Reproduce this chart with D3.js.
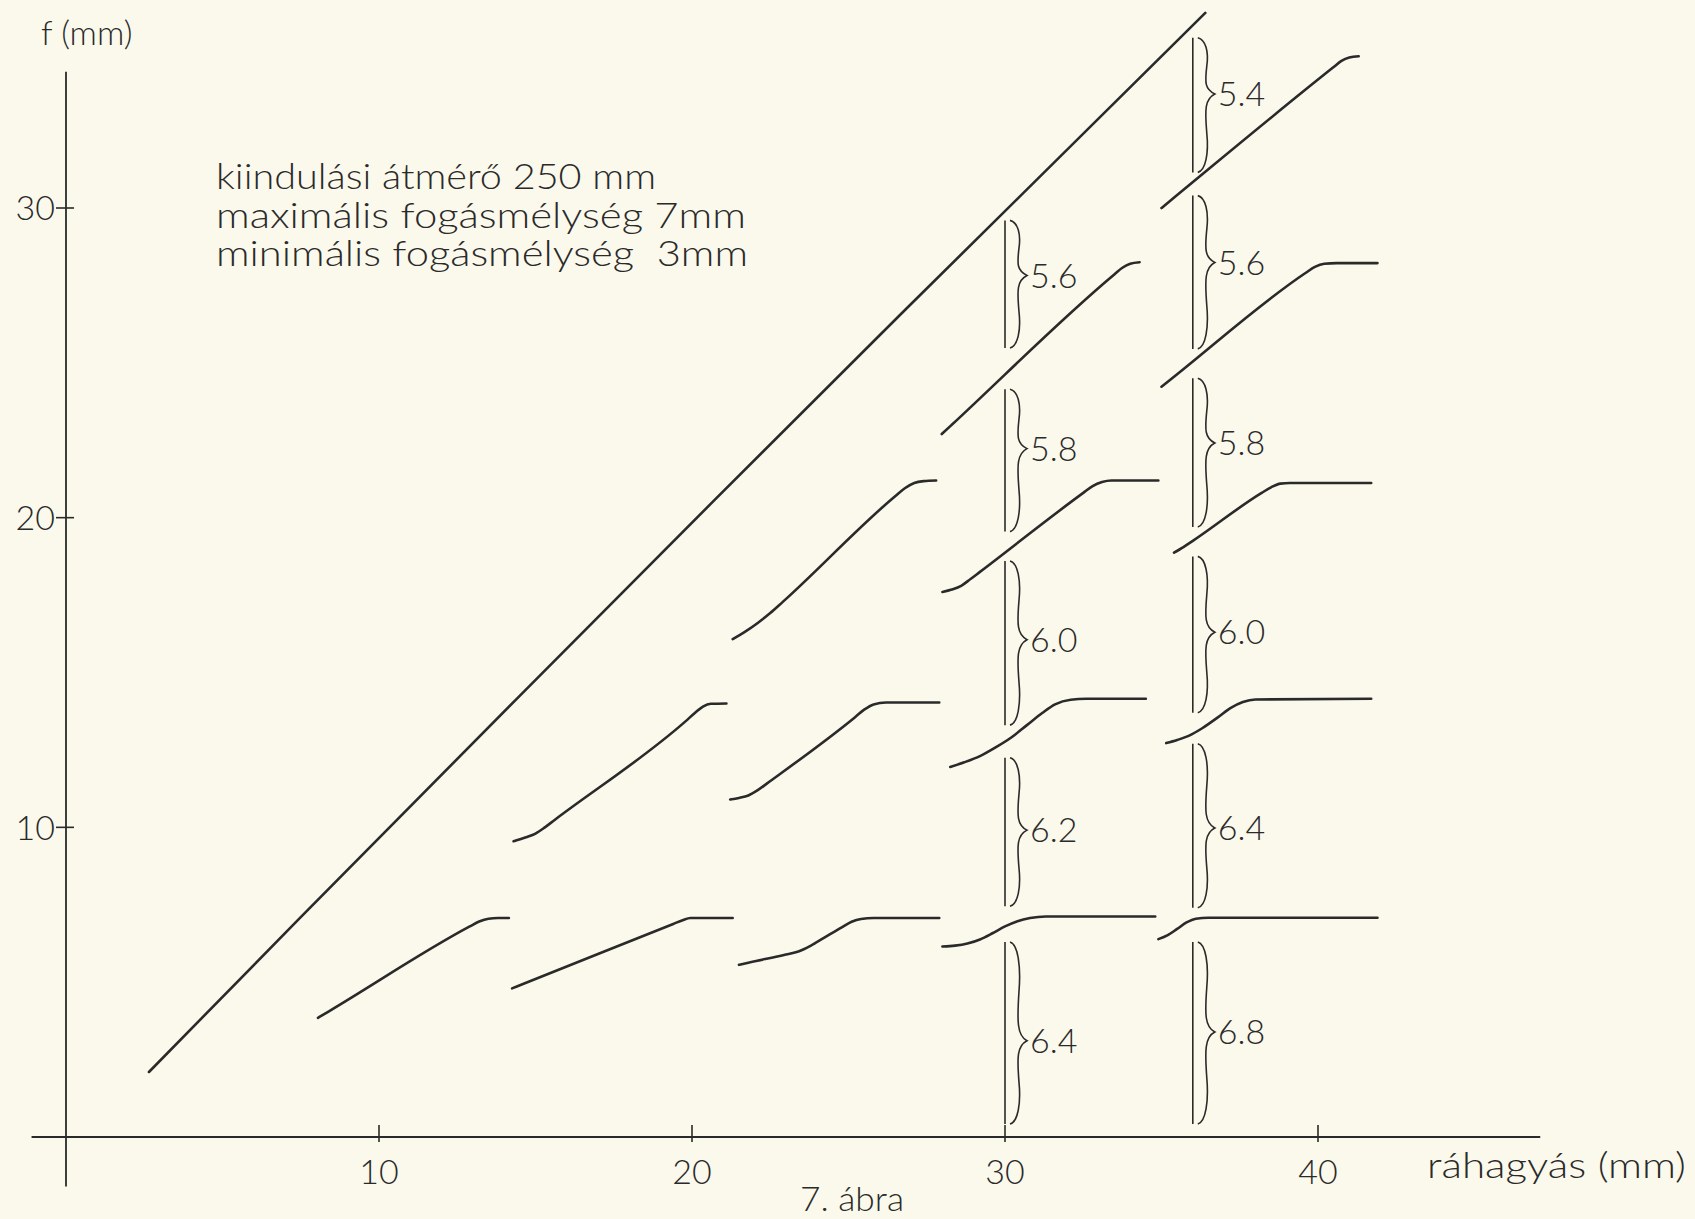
<!DOCTYPE html>
<html>
<head>
<meta charset="utf-8">
<script src="https://cdn.jsdelivr.net/npm/d3@7"></script>
<style>
  html, body { margin: 0; padding: 0; background: #fbf9ec; }
  svg { display: block; }
  text { font-family: Lato, "DejaVu Sans", sans-serif; font-weight: 300; fill: #2a2a2a; }
</style>
</head>
<body>
<div id="chart"></div>
<script>
// f (mm) a ráhagyás (mm) függvényében, fogásonként
var mainCurve = [[2.65, 2.1], [7.5, 7.1], [14.4, 14.15], [20.7, 20.55], [26.7, 26.6], [36.4, 36.3]];

var row7 = [
    [[8.05, 3.85], [8.4, 4.06], [12.9, 6.8], [13.2, 6.96], [13.5, 7.05], [13.8, 7.07], [14.15, 7.07]],
    [[14.25, 4.8], [14.6, 4.94], [19.4, 6.88], [19.7, 7.0], [19.95, 7.07], [20.3, 7.07], [21.3, 7.07]],
    [[21.5, 5.56], [21.8, 5.63], [23.0, 5.89], [23.4, 5.99], [23.8, 6.18], [24.2, 6.42], [24.8, 6.78], [25.1, 6.95], [25.4, 7.04], [25.8, 7.07], [27.9, 7.07]],
    [[28.0, 6.15], [28.4, 6.18], [28.8, 6.25], [29.2, 6.38], [29.6, 6.58], [30.0, 6.8], [30.4, 6.97], [30.8, 7.07], [31.3, 7.12], [34.8, 7.12]],
    [[34.9, 6.39], [35.2, 6.52], [35.5, 6.72], [35.8, 6.93], [36.1, 7.05], [36.5, 7.08], [41.9, 7.08]]
];

var row14 = [
    [[14.3, 9.55], [14.7, 9.68], [15.0, 9.8], [15.3, 10.0], [15.6, 10.23], [19.8, 13.43], [20.1, 13.7], [20.35, 13.9], [20.6, 13.99], [21.1, 14.0]],
    [[21.22, 10.9], [21.5, 10.95], [21.8, 11.03], [22.1, 11.2], [22.4, 11.42], [25.2, 13.55], [25.5, 13.8], [25.8, 13.97], [26.2, 14.03], [27.9, 14.03]],
    [[28.25, 11.95], [28.7, 12.1], [29.2, 12.3], [29.7, 12.58], [30.2, 12.9], [30.7, 13.3], [31.2, 13.7], [31.6, 13.97], [32.1, 14.12], [32.6, 14.15], [34.5, 14.15]],
    [[35.15, 12.72], [35.5, 12.82], [35.9, 12.97], [36.3, 13.2], [36.8, 13.55], [37.2, 13.85], [37.6, 14.05], [38.0, 14.13], [41.7, 14.15]]
];

var row21 = [
    [[21.3, 16.08], [21.7, 16.32], [22.1, 16.6], [22.5, 16.92], [22.9, 17.28], [26.5, 20.7], [26.8, 20.95], [27.1, 21.12], [27.4, 21.18], [27.8, 21.2]],
    [[28.0, 17.6], [28.3, 17.68], [28.6, 17.8], [28.9, 18.02], [29.2, 18.25], [32.5, 20.8], [32.8, 21.02], [33.1, 21.15], [33.4, 21.2], [34.9, 21.2]],
    [[35.4, 18.87], [35.7, 19.05], [36.0, 19.25], [38.2, 20.8], [38.5, 20.98], [38.8, 21.1], [39.1, 21.12], [41.7, 21.12]]
];

var row28 = [
    [[27.98, 22.7], [28.3, 23.0], [33.5, 27.86], [33.75, 28.07], [34.0, 28.2], [34.3, 28.25]],
    [[35.0, 24.23], [35.3, 24.47], [39.6, 27.9], [39.9, 28.1], [40.2, 28.2], [40.6, 28.22], [41.9, 28.22]]
];

var row35 = [
    [[35.0, 30.0], [35.3, 30.25], [40.5, 34.55], [40.75, 34.75], [41.0, 34.86], [41.3, 34.9]]
];

// fogásmélységek: [alsó, felső, csúcs, felirat]
var bracesAt30 = [[25.48, 29.6, 27.82, "5.6"], [19.55, 24.15, 22.23, "5.8"], [13.3, 18.6, 16.06, "6.0"], [7.45, 12.25, 9.91, "6.2"], [0.42, 6.3, 3.11, "6.4"]];
var bracesAt36 = [[31.15, 35.5, 33.68, "5.4"], [25.45, 30.4, 28.24, "5.6"], [19.7, 24.5, 22.41, "5.8"], [13.7, 18.75, 16.3, "6.0"], [7.4, 12.7, 9.98, "6.4"], [0.42, 6.3, 3.39, "6.8"]];

var xTicks = [10, 20, 30, 40];
var yTicks = [10, 20, 30];
var legendLines = ["kiindulási átmérő 250 mm", "maximális fogásmélység 7mm", "minimális fogásmélység  3mm"];
var legendWidths = [440, 530, 532];

var width = 1695;
var height = 1219;
var ink = "#2a2a2a";

var x = d3.scaleLinear().domain([0, 40]).range([66, 1318]);
var y = d3.scaleLinear().domain([0, 30]).range([1137, 208]);

var svg = d3.select("#chart")
    .append("svg")
    .attr("width", width)
    .attr("height", height);

// tengelyek
svg.append("line")
    .attr("x1", x(-1.1)).attr("x2", x(47.1))
    .attr("y1", y(0)).attr("y2", y(0))
    .attr("stroke", ink).attr("stroke-width", 1.8);

svg.append("line")
    .attr("x1", x(0)).attr("x2", x(0))
    .attr("y1", y(34.4)).attr("y2", y(-1.6))
    .attr("stroke", ink).attr("stroke-width", 1.8);

svg.selectAll(".xtick")
    .data(xTicks)
    .enter()
    .append("line")
    .attr("x1", d => x(d)).attr("x2", d => x(d))
    .attr("y1", y(0) - 12).attr("y2", y(0) + 5)
    .attr("stroke", ink).attr("stroke-width", 1.6);

svg.selectAll(".xlabel")
    .data(xTicks)
    .enter()
    .append("text")
    .attr("x", d => x(d))
    .attr("y", y(0) + 47)
    .attr("text-anchor", "middle")
    .style("font-size", "34px")
    .text(d => d);

svg.selectAll(".ytick")
    .data(yTicks)
    .enter()
    .append("line")
    .attr("x1", x(0) - 10).attr("x2", x(0) + 8)
    .attr("y1", d => y(d)).attr("y2", d => y(d))
    .attr("stroke", ink).attr("stroke-width", 1.6);

svg.selectAll(".ylabel")
    .data(yTicks)
    .enter()
    .append("text")
    .attr("x", x(0) - 11)
    .attr("y", d => y(d))
    .attr("dy", "0.36em")
    .attr("text-anchor", "end")
    .style("font-size", "34px")
    .text(d => d);

svg.append("text")
    .attr("x", 41).attr("y", 45)
    .style("font-size", "34px")
    .text("f (mm)");

svg.append("text")
    .attr("x", 1427).attr("y", 1178)
    .attr("textLength", 259)
    .attr("lengthAdjust", "spacingAndGlyphs")
    .style("font-size", "36px")
    .text("ráhagyás (mm)");

svg.append("text")
    .attr("x", 800).attr("y", 1211)
    .attr("textLength", 104)
    .attr("lengthAdjust", "spacingAndGlyphs")
    .style("font-size", "34px")
    .text("7. ábra");

svg.selectAll(".legend")
    .data(legendLines)
    .enter()
    .append("text")
    .attr("x", 216)
    .attr("y", (d, i) => 189 + i * 38.5)
    .attr("textLength", (d, i) => legendWidths[i])
    .attr("lengthAdjust", "spacingAndGlyphs")
    .style("font-size", "36px")
    .style("white-space", "pre")
    .text(d => d);

// görbék
var line = d3.line()
    .x(d => x(d[0]))
    .y(d => y(d[1]))
    .curve(d3.curveMonotoneX);

var allCurves = [mainCurve].concat(row7, row14, row21, row28, row35);

svg.selectAll(".curve")
    .data(allCurves)
    .enter()
    .append("path")
    .attr("d", line)
    .attr("fill", "none")
    .attr("stroke", ink)
    .attr("stroke-width", 2.6)
    .attr("stroke-linecap", "round");

// kapcsos zárójelek a fogásmélységekhez
function braceGroup(xPos, list) {
    var bx = x(xPos);
    list.forEach(function(b) {
        var yb = y(b[0]), yt = y(b[1]), ym = y(b[2]);
        var h1 = ym - yt, h2 = yb - ym;

        svg.append("line")
            .attr("x1", bx).attr("x2", bx)
            .attr("y1", yt).attr("y2", yb)
            .attr("stroke", ink).attr("stroke-width", 1.6);

        var p = d3.path();
        p.moveTo(bx + 5, yt);
        p.bezierCurveTo(bx + 13, yt + 2, bx + 16, yt + 0.25 * h1, bx + 14, yt + 0.5 * h1);
        p.bezierCurveTo(bx + 12, yt + 0.8 * h1, bx + 12, ym - 5, bx + 22, ym);
        p.bezierCurveTo(bx + 12, ym + 5, bx + 12, ym + 0.2 * h2, bx + 14, ym + 0.5 * h2);
        p.bezierCurveTo(bx + 16, ym + 0.75 * h2, bx + 13, yb - 2, bx + 5, yb);

        svg.append("path")
            .attr("d", p.toString())
            .attr("fill", "none")
            .attr("stroke", ink)
            .attr("stroke-width", 1.6);

        svg.append("text")
            .attr("x", bx + 25)
            .attr("y", ym)
            .attr("dy", "0.36em")
            .style("font-size", "34px")
            .text(b[3]);
    });
}

braceGroup(30, bracesAt30);
braceGroup(36, bracesAt36);
</script>
</body>
</html>
